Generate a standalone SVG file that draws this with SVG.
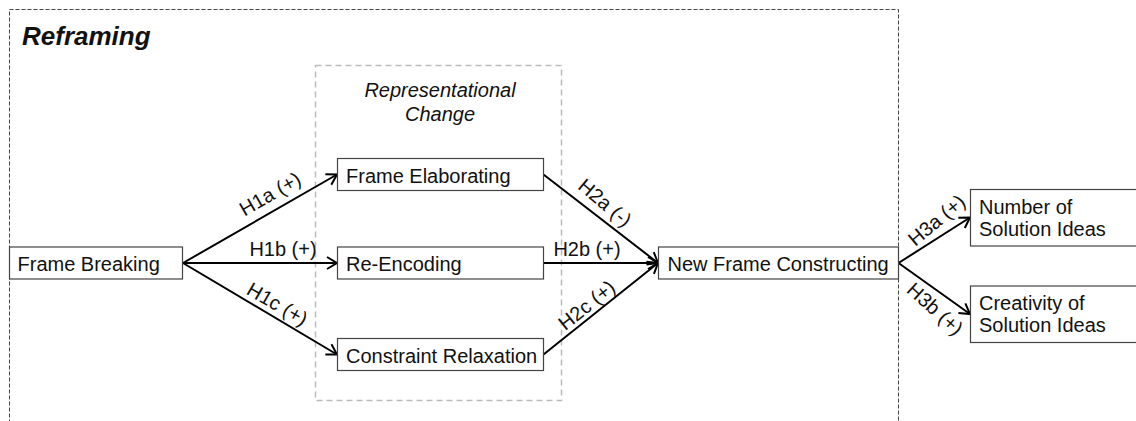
<svg xmlns="http://www.w3.org/2000/svg" width="1136" height="421" viewBox="0 0 1136 421">
<defs>
<style>
text{font-family:"Liberation Sans",Arial,sans-serif;font-size:20px;fill:#111}
.box{fill:#fff;stroke:#444;stroke-width:1.2}
.edge{stroke:#000;stroke-width:2;fill:none;marker-end:url(#ah)}
.lbl{text-anchor:middle}
</style>
<marker id="ah" markerUnits="userSpaceOnUse" markerWidth="14" markerHeight="14" viewBox="-12 -7 14 14" refX="0" refY="0" orient="auto" overflow="visible">
<path d="M-10,-6 L0,0 L-10,6" fill="none" stroke="#000" stroke-width="2"/>
</marker>
</defs>
<rect width="1136" height="421" fill="#fff"/>
<g id="reframing">
<rect x="9.5" y="9.5" width="889" height="440" fill="none" stroke="#444" stroke-width="1" stroke-dasharray="4,2"/>
<text x="22" y="45" style="font-size:26px;font-weight:bold;font-style:italic">Reframing</text>
</g>
<g id="representational-change">
<rect x="315.5" y="65.5" width="246" height="335" fill="none" stroke="#bbb" stroke-width="1.5" stroke-dasharray="6,4"/>
<text x="440" y="97" text-anchor="middle" style="font-style:italic">Representational</text>
<text x="440" y="121" text-anchor="middle" style="font-style:italic">Change</text>
</g>
<g id="connectors">
<path class="edge" d="M183,263 L337,174.5"/>
<path class="edge" d="M183,263 L337,263"/>
<path class="edge" d="M183,263 L337,354.5"/>
<path class="edge" d="M543.5,174.5 L658,263"/>
<path class="edge" d="M543.5,263 L658,263"/>
<path class="edge" d="M543.5,354.5 L658,263"/>
<path class="edge" d="M898.5,263 L970,217.5"/>
<path class="edge" d="M898.5,263 L970,314"/>
<text class="lbl" transform="translate(273.5,200) rotate(-30)">H1a (+)</text>
<text class="lbl" x="283" y="256">H1b (+)</text>
<text class="lbl" transform="translate(274,310) rotate(30)">H1c (+)</text>
<text class="lbl" transform="translate(600.5,208) rotate(40)">H2a (-)</text>
<text class="lbl" x="587" y="256">H2b (+)</text>
<text class="lbl" transform="translate(591,310.5) rotate(-38.7)">H2c (+)</text>
<text class="lbl" transform="translate(941,225.5) rotate(-40)">H3a (+)</text>
<text class="lbl" transform="translate(930.5,314) rotate(42)">H3b (+)</text>
</g>
<g id="frame-breaking">
<rect class="box" x="9.5" y="247" width="173" height="32"/>
<text x="17.5" y="271">Frame Breaking</text>
</g>
<g id="frame-elaborating">
<rect class="box" x="337.5" y="158.5" width="206" height="32"/>
<text x="346" y="183">Frame Elaborating</text>
</g>
<g id="re-encoding">
<rect class="box" x="337.5" y="247" width="206" height="32"/>
<text x="346" y="271">Re-Encoding</text>
</g>
<g id="constraint-relaxation">
<rect class="box" x="337.5" y="338.5" width="206" height="32"/>
<text x="346" y="362.5">Constraint Relaxation</text>
</g>
<g id="new-frame-constructing">
<rect class="box" x="658.5" y="247" width="240" height="32"/>
<text x="667.5" y="271">New Frame Constructing</text>
</g>
<g id="number-of-solution-ideas">
<rect class="box" x="970.5" y="189.5" width="200" height="56.5"/>
<text x="979" y="213.5">Number of</text>
<text x="979" y="236">Solution Ideas</text>
</g>
<g id="creativity-of-solution-ideas">
<rect class="box" x="970.5" y="286" width="200" height="56.5"/>
<text x="979" y="309.5">Creativity of</text>
<text x="979" y="332">Solution Ideas</text>
</g>
</svg>
